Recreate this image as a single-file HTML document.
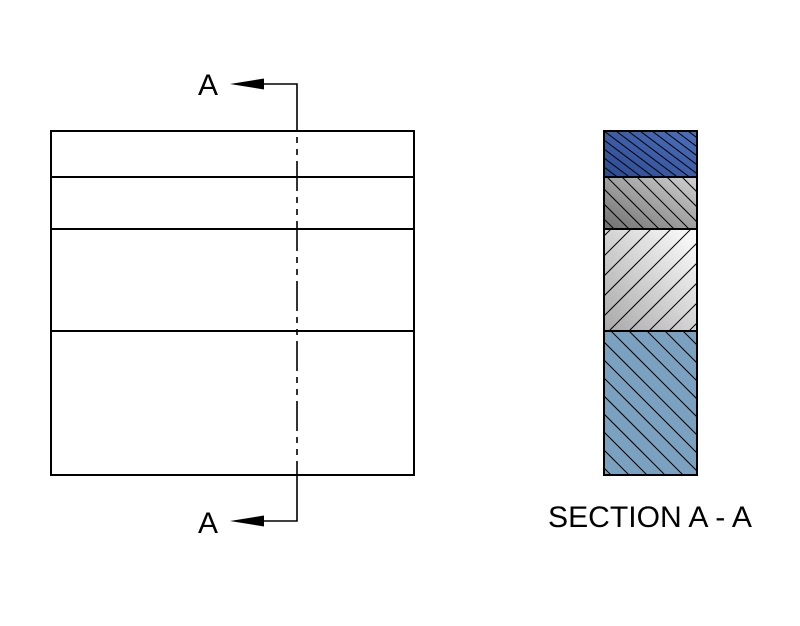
<!DOCTYPE html>
<html><head><meta charset="utf-8"><style>
html,body{margin:0;padding:0;background:#fff;width:800px;height:626px;overflow:hidden;}
svg{display:block;overflow:hidden;}
</style></head><body>
<svg width="800" height="626" viewBox="0 0 800 626" xmlns="http://www.w3.org/2000/svg">
<defs>
<linearGradient id="gBlue" x1="0" y1="1" x2="1" y2="0">
<stop offset="0" stop-color="#2d4b92"/><stop offset="1" stop-color="#4d6fba"/>
</linearGradient>
<linearGradient id="gGray" x1="0" y1="1" x2="1" y2="0">
<stop offset="0" stop-color="#707070"/><stop offset="1" stop-color="#d2d2d2"/>
</linearGradient>
<linearGradient id="gLight" x1="0" y1="1" x2="1" y2="0">
<stop offset="0" stop-color="#a8a8a8"/><stop offset="1" stop-color="#ffffff"/>
</linearGradient>
<clipPath id="c1"><rect x="604" y="131" width="93" height="46"/></clipPath>
<clipPath id="c2"><rect x="604" y="177" width="93" height="52"/></clipPath>
<clipPath id="c3"><rect x="604" y="229" width="93" height="102"/></clipPath>
<clipPath id="c4"><rect x="604" y="331" width="93" height="144"/></clipPath>
</defs>

<!-- front view -->
<g stroke="#000" stroke-width="2" fill="none">
<rect x="51" y="131" width="363" height="344"/>
<line x1="51" y1="177" x2="414" y2="177"/>
<line x1="51" y1="229" x2="414" y2="229"/>
<line x1="51" y1="331" x2="414" y2="331"/>
</g>

<!-- section line -->
<g stroke="#000" stroke-width="1.6" fill="none">
<polyline points="263,84 297,84 297,131"/>
<line x1="297" y1="131" x2="297" y2="475" stroke-dasharray="30 6 6 6 6 6" stroke-dashoffset="30"/>
<polyline points="297,475 297,521 263,521"/>
</g>
<polygon points="230,84 264,78.5 264,89.5" fill="#000"/>
<polygon points="230,521 264,515.5 264,526.5" fill="#000"/>
<text x="198" y="95" font-family="Liberation Sans, sans-serif" font-size="30" fill="#000">A</text>
<text x="198" y="533" font-family="Liberation Sans, sans-serif" font-size="30" fill="#000">A</text>

<!-- section view -->
<rect x="604" y="131" width="93" height="46" fill="url(#gBlue)"/>
<rect x="604" y="177" width="93" height="52" fill="url(#gGray)"/>
<rect x="604" y="229" width="93" height="102" fill="url(#gLight)"/>
<rect x="604" y="331" width="93" height="144" fill="#7aa2c0"/>

<g stroke="#000" stroke-width="1" clip-path="url(#c1)">
<line x1="580" y1="95" x2="720" y2="200"/>
<line x1="580" y1="104" x2="720" y2="209"/>
<line x1="580" y1="113" x2="720" y2="218"/>
<line x1="580" y1="122" x2="720" y2="227"/>
<line x1="580" y1="131" x2="720" y2="236"/>
<line x1="580" y1="140" x2="720" y2="245"/>
<line x1="580" y1="149" x2="720" y2="254"/>
<line x1="580" y1="86" x2="720" y2="191"/>
<line x1="580" y1="77" x2="720" y2="182"/>
<line x1="580" y1="68" x2="720" y2="173"/>
<line x1="580" y1="59" x2="720" y2="164"/>
<line x1="580" y1="50" x2="720" y2="155"/>
<line x1="580" y1="41" x2="720" y2="146"/>
<line x1="580" y1="32" x2="720" y2="137"/>
</g>
<g stroke="#000" stroke-width="1" clip-path="url(#c2)">
<line x1="580" y1="120" x2="720" y2="260"/>
<line x1="580" y1="135" x2="720" y2="275"/>
<line x1="580" y1="150" x2="720" y2="290"/>
<line x1="580" y1="165" x2="720" y2="305"/>
<line x1="580" y1="180" x2="720" y2="320"/>
<line x1="580" y1="195" x2="720" y2="335"/>
<line x1="580" y1="210" x2="720" y2="350"/>
<line x1="580" y1="225" x2="720" y2="365"/>
<line x1="580" y1="105" x2="720" y2="245"/>
<line x1="580" y1="90" x2="720" y2="230"/>
<line x1="580" y1="75" x2="720" y2="215"/>
<line x1="580" y1="60" x2="720" y2="200"/>
<line x1="580" y1="45" x2="720" y2="185"/>
</g>
<g stroke="#000" stroke-width="1" clip-path="url(#c3)">
<line x1="580" y1="240" x2="720" y2="100"/>
<line x1="580" y1="260" x2="720" y2="120"/>
<line x1="580" y1="280" x2="720" y2="140"/>
<line x1="580" y1="300" x2="720" y2="160"/>
<line x1="580" y1="320" x2="720" y2="180"/>
<line x1="580" y1="340" x2="720" y2="200"/>
<line x1="580" y1="360" x2="720" y2="220"/>
<line x1="580" y1="380" x2="720" y2="240"/>
<line x1="580" y1="400" x2="720" y2="260"/>
<line x1="580" y1="420" x2="720" y2="280"/>
<line x1="580" y1="440" x2="720" y2="300"/>
<line x1="580" y1="460" x2="720" y2="320"/>
</g>
<g stroke="#000" stroke-width="1" clip-path="url(#c4)">
<line x1="580" y1="210" x2="720" y2="350"/>
<line x1="580" y1="228" x2="720" y2="368"/>
<line x1="580" y1="246" x2="720" y2="386"/>
<line x1="580" y1="264" x2="720" y2="404"/>
<line x1="580" y1="282" x2="720" y2="422"/>
<line x1="580" y1="300" x2="720" y2="440"/>
<line x1="580" y1="318" x2="720" y2="458"/>
<line x1="580" y1="336" x2="720" y2="476"/>
<line x1="580" y1="354" x2="720" y2="494"/>
<line x1="580" y1="372" x2="720" y2="512"/>
<line x1="580" y1="390" x2="720" y2="530"/>
<line x1="580" y1="408" x2="720" y2="548"/>
<line x1="580" y1="426" x2="720" y2="566"/>
<line x1="580" y1="444" x2="720" y2="584"/>
<line x1="580" y1="462" x2="720" y2="602"/>
<line x1="580" y1="192" x2="720" y2="332"/>
</g>

<g stroke="#000" stroke-width="2" fill="none">
<rect x="604" y="131" width="93" height="344"/>
<line x1="604" y1="177" x2="697" y2="177"/>
<line x1="604" y1="229" x2="697" y2="229"/>
<line x1="604" y1="331" x2="697" y2="331"/>
</g>

<text x="548" y="527" font-family="Liberation Sans, sans-serif" font-size="30" fill="#000" textLength="204" lengthAdjust="spacingAndGlyphs">SECTION A - A</text>
</svg>
</body></html>
